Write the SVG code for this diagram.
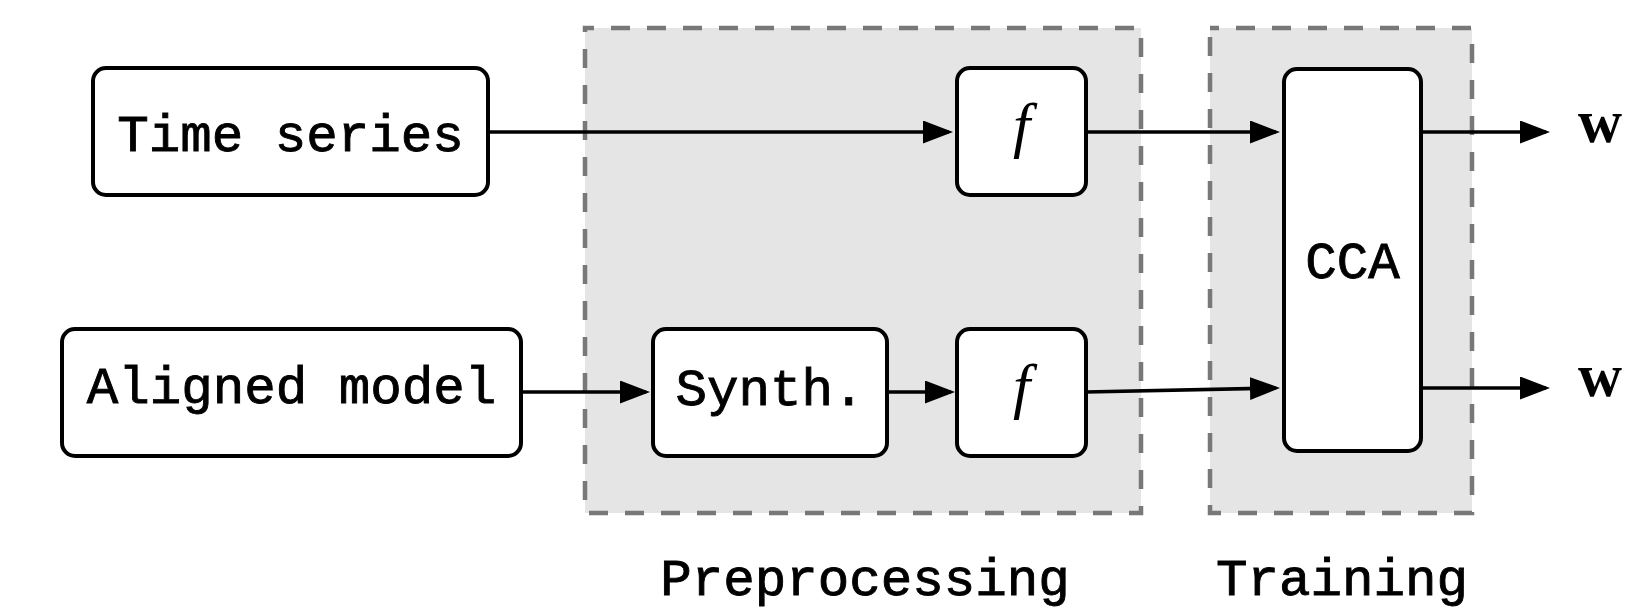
<svg xmlns="http://www.w3.org/2000/svg" width="1626" height="609" viewBox="0 0 1626 609">
  <defs>
    <marker id="arrow" markerUnits="userSpaceOnUse" markerWidth="32" markerHeight="24" refX="26" refY="11.5" orient="auto">
      <path d="M0,0 L30,11.5 L0,23 z" fill="#000"/>
    </marker>
    <style>
      .stage { fill: #e5e5e5; stroke: #787878; stroke-width: 4.5px; stroke-dasharray: 19px 17px; stroke-dashoffset: 10px; }
      .box { fill: #fff; stroke: #000; stroke-width: 4px; }
      .tt { font-family: "Liberation Mono", "DejaVu Sans Mono", monospace; font-size: 52.5px; fill: #000; stroke: #000; stroke-width: 0.9px; text-anchor: middle; }
      .fn { font-family: "Liberation Serif", "DejaVu Serif", serif; font-style: italic; font-size: 62px; fill: #000; text-anchor: middle; }
      .vec { font-family: "Liberation Serif", "DejaVu Serif", serif; font-weight: bold; font-size: 61px; fill: #000; }
      .edge { fill: none; stroke: #000; stroke-width: 3.6px; marker-end: url(#arrow); }
    </style>
  </defs>

  <rect width="1626" height="609" fill="#fff"/>

  <!-- stage backgrounds -->
  <g id="preprocessing">
    <rect class="stage" x="585" y="28" width="556" height="485"/>
    <text class="tt" x="865" y="595">Preprocessing</text>
  </g>
  <g id="training">
    <rect class="stage" x="1210" y="28" width="262" height="485"/>
    <text class="tt" x="1342" y="595">Training</text>
  </g>

  <!-- connectors -->
  <g id="connectors">
    <path class="edge" d="M488,132 H949"/>
    <path class="edge" d="M521,392 H646"/>
    <path class="edge" d="M887,392 H951"/>
    <path class="edge" d="M1086,132 H1276"/>
    <path class="edge" d="M1086,392 L1276,388"/>
    <path class="edge" d="M1421,132 H1546"/>
    <path class="edge" d="M1421,388 H1546"/>
  </g>

  <!-- nodes -->
  <g id="time-series">
    <rect class="box" x="93" y="68" width="395" height="127" rx="13"/>
    <text class="tt" x="290.5" y="151">Time series</text>
  </g>
  <g id="aligned-model">
    <rect class="box" x="62" y="329" width="459" height="127" rx="13"/>
    <text class="tt" x="291.5" y="403">Aligned model</text>
  </g>
  <g id="synth">
    <rect class="box" x="653" y="329" width="234" height="127" rx="13"/>
    <text class="tt" x="770" y="405">Synth.</text>
  </g>
  <g id="f-top">
    <rect class="box" x="957" y="68" width="129" height="127" rx="13"/>
    <text class="fn" x="1021.5" y="146">f</text>
  </g>
  <g id="f-bottom">
    <rect class="box" x="957" y="329" width="129" height="127" rx="13"/>
    <text class="fn" x="1021.5" y="407">f</text>
  </g>
  <g id="cca">
    <rect class="box" x="1284" y="69" width="137" height="382" rx="13"/>
    <text class="tt" x="1352.5" y="278">CCA</text>
  </g>

  <!-- outputs -->
  <g id="w-top">
    <text class="vec" x="1578" y="142">w</text>
  </g>
  <g id="w-bottom">
    <text class="vec" x="1578" y="396">w</text>
  </g>
</svg>
